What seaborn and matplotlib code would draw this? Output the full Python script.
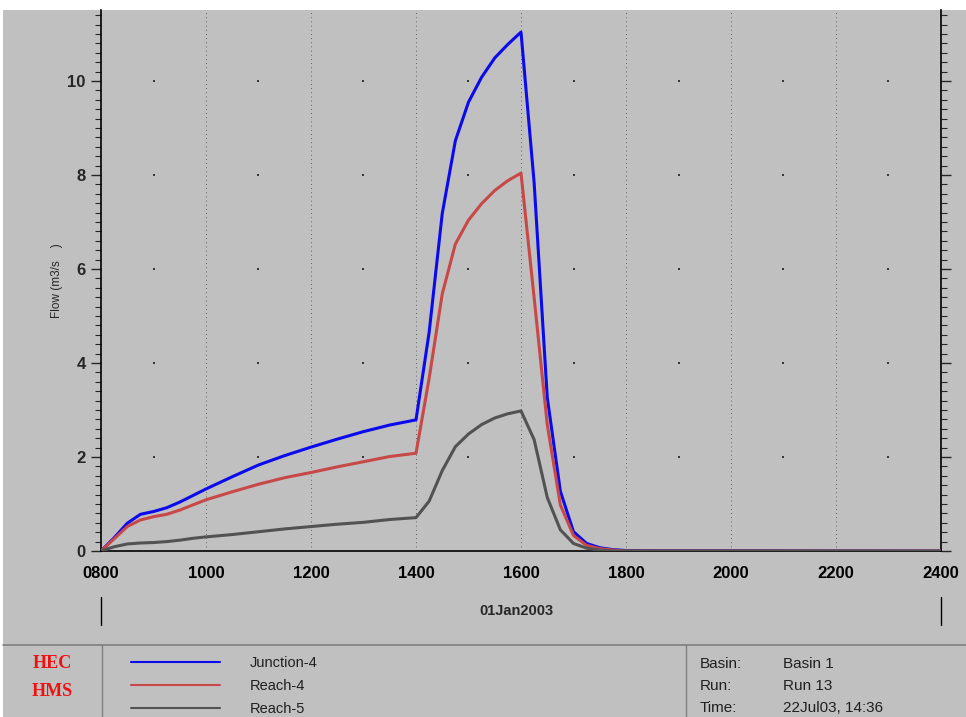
"""
HEC-HMS style flow hydrograph: Junction-4, Reach-4, Reach-5 on 01Jan2003.
Saves out.png (966x717).
"""

import numpy as np
import pandas as pd
import matplotlib.pyplot as plt
import seaborn as sns
from matplotlib.lines import Line2D
from matplotlib.patches import Rectangle
from matplotlib.transforms import blended_transform_factory

# time in hours of 01Jan2003
hours = [8.0, 8.25, 8.5, 8.75, 9.0, 9.25, 9.5, 9.75, 10.0, 10.5, 11.0, 11.5,
         12.0, 12.5, 13.0, 13.5, 14.0, 14.25, 14.5, 14.75, 15.0, 15.25, 15.5,
         15.75, 16.0, 16.25, 16.5, 16.75, 17.0, 17.25, 17.5, 17.75, 18.0, 24.0]

junction4 = [0.0, 0.28, 0.59, 0.78, 0.84, 0.92, 1.04, 1.18, 1.32, 1.58, 1.83,
             2.03, 2.21, 2.38, 2.54, 2.68, 2.79, 4.65, 7.18, 8.73, 9.55, 10.08,
             10.49, 10.78, 11.04, 7.84, 3.27, 1.27, 0.41, 0.16, 0.07, 0.03,
             0.01, 0.0]
reach4 = [0.0, 0.26, 0.52, 0.66, 0.73, 0.78, 0.87, 0.98, 1.09, 1.26, 1.42,
          1.56, 1.67, 1.79, 1.90, 2.01, 2.08, 3.67, 5.47, 6.53, 7.04, 7.39,
          7.67, 7.88, 8.04, 5.39, 2.69, 0.98, 0.33, 0.12, 0.05, 0.02, 0.0,
          0.0]
reach5 = [0.0, 0.09, 0.15, 0.17, 0.18, 0.20, 0.23, 0.27, 0.30, 0.35, 0.41,
          0.47, 0.52, 0.57, 0.61, 0.67, 0.71, 1.06, 1.71, 2.22, 2.49, 2.69,
          2.83, 2.92, 2.98, 2.37, 1.14, 0.45, 0.16, 0.06, 0.02, 0.0, 0.0,
          0.0]

series_names = ["Junction-4", "Reach-4", "Reach-5"]
series_colors = ["#0a0aec", "#c84848", "#525252"]
x_ticks = [8, 10, 12, 14, 16, 18, 20, 22, 24]
x_labels = ["0800", "1000", "1200", "1400", "1600", "1800", "2000", "2200", "2400"]
y_ticks = [0, 2, 4, 6, 8, 10]

info_keys = ["Basin:", "Run:", "Time:"]
info_vals = ["Basin 1", "Run 13", "22Jul03, 14:36"]

BG = "#c0c0c0"


def build_frame():
    parts = []
    for name, vals in zip(series_names, [junction4, reach4, reach5]):
        parts.append(pd.DataFrame({"hour": hours, "flow": vals, "series": name}))
    return pd.concat(parts, ignore_index=True)


def main():
    sns.set_style("white")
    plt.rcParams["font.family"] = ["Liberation Sans", "DejaVu Sans"]

    fig = plt.figure(figsize=(9.66, 7.17), dpi=100, facecolor="white")
    W, H = 966, 717
    # grey panel below the thin white strip at top
    fig.patches.append(Rectangle((3 / W, 0), 1 - 3 / W, 1 - 10 / H,
                                 transform=fig.transFigure, facecolor=BG,
                                 edgecolor="none", zorder=-10))

    ax = fig.add_axes([101 / W, 1 - 551 / H, 840 / W, 541 / H])
    ax.set_facecolor(BG)

    df = build_frame()
    sns.lineplot(data=df, x="hour", y="flow", hue="series",
                 palette=dict(zip(series_names, series_colors)),
                 linewidth=2.2, legend=False, ax=ax, zorder=3)

    ax.set_xlim(8, 24)
    ax.set_ylim(0, 11.51)

    # dotted vertical grid at even hours, dot grid at odd hours
    for h in x_ticks[1:-1]:
        ax.axvline(h, color="#404040", linestyle=(0, (1, 4)), linewidth=0.6, zorder=1)
    odd = [9, 11, 13, 15, 17, 19, 21, 23]
    gx = [h for h in odd for _ in y_ticks[1:]]
    gy = [v for _ in odd for v in y_ticks[1:]]
    ax.scatter(gx, gy, s=0.9, color="#383838", marker="s", linewidths=0, zorder=1)

    ax.set_xticks(x_ticks)
    ax.set_xticklabels(x_labels, fontsize=12, fontweight="bold")
    ax.set_xticks(odd, minor=True)
    ax.set_yticks(y_ticks)
    ax.set_yticklabels([str(v) for v in y_ticks], fontsize=12, fontweight="bold")
    ax.set_yticks(np.arange(0, 11.5, 0.2), minor=True)

    ax.tick_params(axis="x", which="major", direction="out", length=8, width=1,
                   pad=3, colors="black")
    ax.tick_params(axis="x", which="minor", direction="out", length=6, width=1)
    ax.tick_params(axis="y", which="major", direction="out", length=7, width=1,
                   right=True, left=True, labelright=False, pad=4)
    ax.tick_params(axis="y", which="minor", direction="out", length=4, width=0.8,
                   right=True, left=True)

    ax.spines["top"].set_visible(False)
    for side in ["left", "right", "bottom"]:
        ax.spines[side].set_color("black")
        ax.spines[side].set_linewidth(1.2)

    ax.set_xlabel("")
    ax.set_ylabel("Flow (m3/s    )", fontsize=8.5, labelpad=3)

    # date span marker under the axis
    trans = blended_transform_factory(ax.transData, fig.transFigure)
    for h in [8, 24]:
        ax.add_line(Line2D([h, h], [1 - 597 / H, 1 - 625 / H], transform=trans,
                           color="black", linewidth=1, clip_on=False))
    fig.text(516 / W, 1 - 611 / H, "01Jan2003", fontsize=10.5, fontweight="bold",
             ha="center", va="center")

    # bottom info panel
    fig.add_artist(Line2D([3 / W, 1], [1 - 645 / H, 1 - 645 / H],
                          transform=fig.transFigure, color="#808080", linewidth=1.2))
    for sx in [102, 686]:
        fig.add_artist(Line2D([sx / W, sx / W], [0, 1 - 645 / H],
                              transform=fig.transFigure, color="#808080", linewidth=1))

    fig.text(52 / W, 1 - 664 / H, "HEC", color="#ee1111", fontsize=13,
             fontweight="bold", family="Liberation Serif", ha="center", va="center")
    fig.text(52 / W, 1 - 692 / H, "HMS", color="#ee1111", fontsize=13,
             fontweight="bold", family="Liberation Serif", ha="center", va="center")

    rows = [662, 685, 708]
    for name, col, ry in zip(series_names, series_colors, rows):
        fig.add_artist(Line2D([131 / W, 220 / W], [1 - ry / H, 1 - ry / H],
                              transform=fig.transFigure, color=col, linewidth=1.5))
        fig.text(250 / W, 1 - (ry + 1) / H, name, fontsize=10.5, color="#202020",
                 va="center", ha="left")

    for key, val, ry in zip(info_keys, info_vals, [664, 686, 708]):
        fig.text(700 / W, 1 - ry / H, key, fontsize=11, color="#202020",
                 va="center", ha="left")
        fig.text(783 / W, 1 - ry / H, val, fontsize=11, color="#202020",
                 va="center", ha="left")

    fig.savefig("out.png", dpi=100, facecolor=fig.get_facecolor())


if __name__ == "__main__":
    main()
